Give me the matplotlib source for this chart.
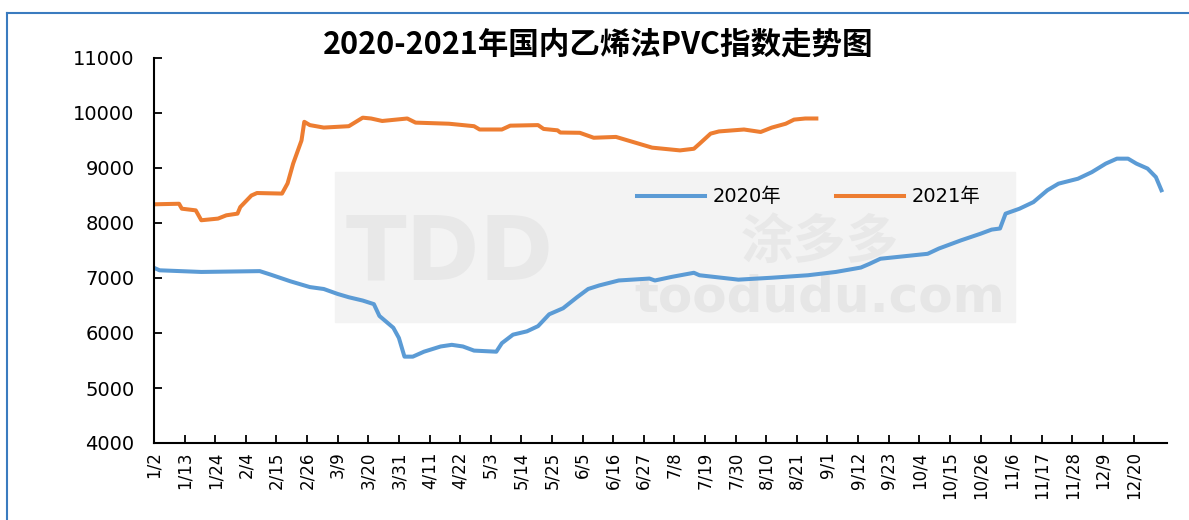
import numpy as np
import pandas as pd
import matplotlib
matplotlib.use("Agg")
import matplotlib.pyplot as plt
from matplotlib.lines import Line2D
from matplotlib.patches import Rectangle

# ---- data (index values, calendar day m/d) ----
dates_2020 = ["1/2", "1/4", "1/19", "2/9", "2/13", "2/20", "2/27", "3/4", "3/9",
              "3/13", "3/18", "3/22", "3/24", "3/29", "3/31", "4/2", "4/5", "4/9",
              "4/15", "4/19", "4/23", "4/27", "5/5", "5/7", "5/11", "5/16", "5/20",
              "5/24", "5/29", "6/3", "6/7", "6/11", "6/18", "6/29", "7/1", "7/7",
              "7/15", "7/17", "7/31", "8/12", "8/25", "9/4", "9/13", "9/16", "9/20",
              "10/7", "10/11", "10/19", "10/26", "10/30", "11/2", "11/4", "11/9",
              "11/14", "11/19", "11/23", "11/30", "12/5", "12/10", "12/14", "12/18",
              "12/21", "12/25", "12/28", "12/30"]
vals_2020 = [7185, 7140, 7110, 7125, 7060, 6940, 6835, 6800, 6710,
             6650, 6590, 6525, 6310, 6095, 5910, 5570, 5570, 5660,
             5755, 5785, 5755, 5680, 5660, 5815, 5970, 6030, 6125,
             6340, 6450, 6650, 6800, 6865, 6955, 6990, 6955, 7020,
             7095, 7050, 6970, 7005, 7050, 7110, 7190, 7255, 7350,
             7440, 7535, 7685, 7805, 7880, 7900, 8170, 8260,
             8380, 8595, 8715, 8805, 8925, 9080, 9170, 9170,
             9080, 8990, 8835, 8595]

dates_2021 = ["1/2", "1/11", "1/12", "1/17", "1/19", "1/25", "1/28", "2/1", "2/2",
              "2/6", "2/8", "2/17", "2/19", "2/21", "2/24", "2/25", "2/27", "3/4",
              "3/13", "3/18", "3/21", "3/25", "4/3", "4/6", "4/18", "4/27", "4/29",
              "5/7", "5/10", "5/20", "5/22", "5/27", "5/28", "6/4", "6/9", "6/17",
              "6/22", "6/30", "7/10", "7/15", "7/17", "7/21", "7/24", "8/2", "8/8",
              "8/12", "8/17", "8/20", "8/24", "8/28"]
vals_2021 = [8340, 8350, 8260, 8230, 8050, 8080, 8140, 8170, 8290,
             8500, 8545, 8535, 8720, 9080, 9500, 9840, 9780, 9735,
             9760, 9915, 9900, 9855, 9900, 9825, 9805, 9760, 9700,
             9700, 9770, 9780, 9710, 9685, 9645, 9640, 9550, 9565,
             9490, 9370, 9320, 9350, 9440, 9625, 9665, 9700, 9655,
             9735, 9805, 9880, 9900, 9900]

tick_labels = ["1/2", "1/13", "1/24", "2/4", "2/15", "2/26", "3/9", "3/20", "3/31",
               "4/11", "4/22", "5/3", "5/14", "5/25", "6/5", "6/16", "6/27", "7/8",
               "7/19", "7/30", "8/10", "8/21", "9/1", "9/12", "9/23", "10/4",
               "10/15", "10/26", "11/6", "11/17", "11/28", "12/9", "12/20"]

title = "2020-2021年国内乙烯法PVC指数走势图"


def to_day(md):
    # days counted from 1/2 on a common (non-leap) calendar
    return (pd.Timestamp("2021/" + md) - pd.Timestamp("2021-01-02")).days


x20 = np.array([to_day(s) for s in dates_2020])
x21 = np.array([to_day(s) for s in dates_2021])
xt = [to_day(s) for s in tick_labels]

plt.rcParams["font.family"] = ["DejaVu Sans", "Noto Sans CJK SC"]

fig = plt.figure(figsize=(11.89, 5.2), dpi=100)
ax = fig.add_axes([154 / 1189, 1 - 443 / 520, (1167 - 154) / 1189, (443 - 58) / 520])
ax.set_zorder(2)
ax.set_facecolor("none")

# faint watermark block behind the plot
fig.patches.append(Rectangle((335 / 1189, 1 - 322 / 520), 680 / 1189, 150 / 520,
                             transform=fig.transFigure, color="#f3f3f3", zorder=0))
fig.text(820 / 1189, 1 - 298 / 520, "toodudu.com", fontsize=36, fontweight="bold",
         color="#e6e6e6", ha="center", va="center", zorder=1)
fig.text(450 / 1189, 1 - 255 / 520, "TDD", fontsize=64, fontweight="bold",
         color="#e8e8e8", ha="center", va="center", zorder=1)
fig.text(820 / 1189, 1 - 242 / 520, "涂多多", fontsize=38, fontweight="bold",
         color="#e8e8e8", ha="center", va="center", zorder=1,
         family=["Noto Sans CJK SC", "DejaVu Sans"])

ax.plot(x20, vals_2020, color="#5b9bd5", lw=2.9, label="2020年",
        solid_joinstyle="round")
ax.plot(x21, vals_2021, color="#ed7d31", lw=2.9, label="2021年",
        solid_joinstyle="round")

ax.set_xlim(0, 364)
ax.set_ylim(4000, 11000)
ax.set_yticks(np.arange(4000, 11001, 1000))
ax.set_xticks(xt)
ax.set_xticklabels(tick_labels, rotation=90, fontsize=12)
ax.tick_params(axis="y", labelsize=14, direction="in", length=6, width=1.3, pad=14)
ax.tick_params(axis="x", direction="in", length=6, width=1.3, pad=6)

for side in ["top", "right"]:
    ax.spines[side].set_visible(False)
for side in ["left", "bottom"]:
    ax.spines[side].set_linewidth(1.5)
    ax.spines[side].set_color("black")

ax.legend(loc="center", bbox_to_anchor=(809 / 1189, 1 - 197 / 520),
          bbox_transform=fig.transFigure, ncol=2, frameon=False,
          fontsize=14, handlelength=3.5, columnspacing=2.8, handletextpad=0.4)

fig.text(0.503, 1 - 45 / 520, title, fontsize=22, fontweight="bold",
         ha="center", va="center", family=["Noto Sans CJK SC", "DejaVu Sans"])

# outer frame (left and top edges visible)
fig.add_artist(Line2D([7 / 1189, 7 / 1189], [0, 1 - 13 / 520],
                      transform=fig.transFigure, color="#3a7bbf", lw=1.5))
fig.add_artist(Line2D([7 / 1189, 1], [1 - 13 / 520, 1 - 13 / 520],
                      transform=fig.transFigure, color="#3a7bbf", lw=1.5))

fig.savefig("out.png", dpi=100)
